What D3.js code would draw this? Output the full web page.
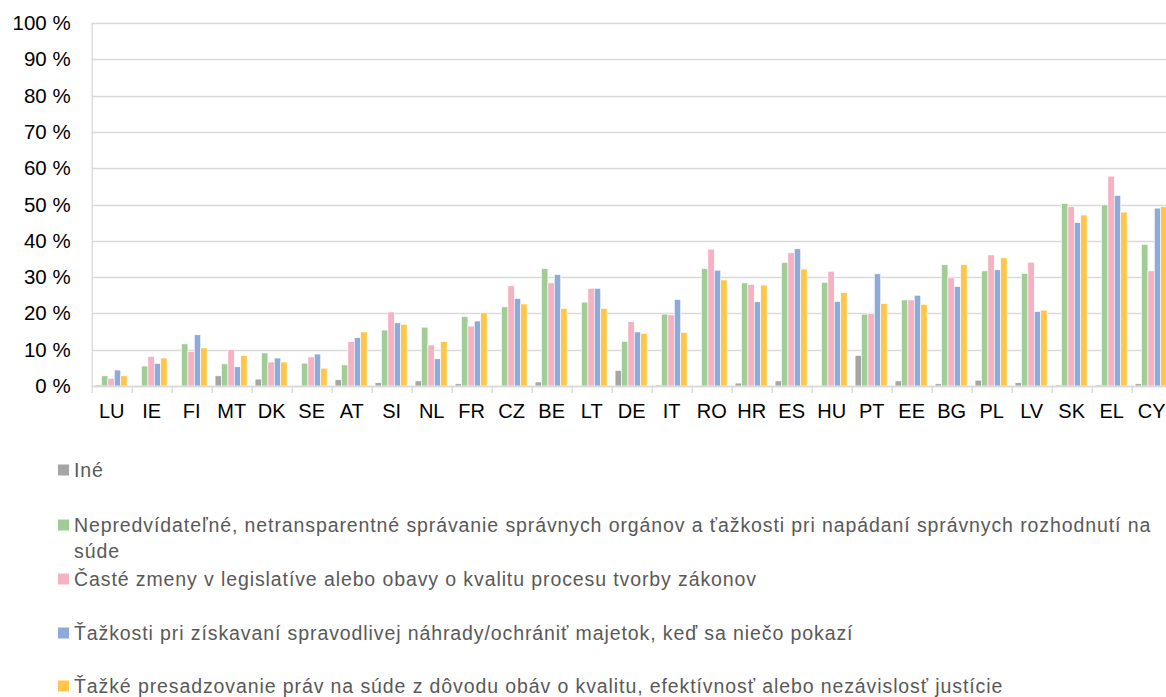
<!DOCTYPE html>
<html>
<head>
<meta charset="utf-8">
<script src="https://cdn.jsdelivr.net/npm/d3@7"></script>
<style>
  html, body { margin: 0; padding: 0; background: #fff; }
  svg { display: block; font-family: "Liberation Sans", Arial, sans-serif; }
</style>
</head>
<body>
<svg id="chart" width="1166" height="697"></svg>
<script>
// Countries along the x axis
const countries = ["LU","IE","FI","MT","DK","SE","AT","SI","NL","FR","CZ","BE","LT","DE","IT","RO","HR","ES","HU","PT","EE","BG","PL","LV","SK","EL","CY"];

// Share of respondents (%) per reason
const ine        = [0.3, 0.0, 0.0, 2.8, 1.9, 0.0, 1.7, 0.9, 1.4, 0.6, 0.0, 1.1, 0.2, 4.3, 0.3, 0.2, 0.8, 1.4, 0.2, 8.4, 1.4, 0.6, 1.6, 0.9, 0.3, 0.3, 0.6];
const nepredv    = [2.8, 5.5, 11.6, 6.1, 9.1, 6.3, 5.8, 15.4, 16.2, 19.1, 21.8, 32.3, 23.1, 12.3, 19.8, 32.3, 28.4, 34.0, 28.5, 19.8, 23.7, 33.4, 31.7, 31.0, 50.3, 49.9, 39.0];
const zmeny      = [2.1, 8.1, 9.5, 10.0, 6.6, 8.0, 12.2, 20.4, 11.3, 16.5, 27.6, 28.4, 26.9, 17.7, 19.6, 37.7, 28.0, 36.7, 31.6, 20.0, 23.7, 29.8, 36.1, 34.1, 49.4, 57.8, 31.7];
const nahrada    = [4.4, 6.2, 14.1, 5.3, 7.7, 8.8, 13.3, 17.4, 7.5, 17.9, 24.1, 30.7, 26.9, 14.9, 23.8, 31.9, 23.2, 37.8, 23.3, 30.9, 25.0, 27.4, 32.0, 20.5, 45.0, 52.5, 49.0];
const presadz    = [2.8, 7.7, 10.5, 8.4, 6.6, 4.9, 14.9, 17.0, 12.2, 20.2, 22.6, 21.4, 21.4, 14.5, 14.8, 29.2, 27.8, 32.2, 25.7, 22.7, 22.5, 33.4, 35.3, 20.9, 47.1, 47.9, 49.4];

const yTicks = [0,10,20,30,40,50,60,70,80,90,100];

const seriesNames = [
  "Iné",
  "Nepredvídateľné, netransparentné správanie správnych orgánov a ťažkosti pri napádaní správnych rozhodnutí na súde",
  "Časté zmeny v legislatíve alebo obavy o kvalitu procesu tvorby zákonov",
  "Ťažkosti pri získavaní spravodlivej náhrady/ochrániť majetok, keď sa niečo pokazí",
  "Ťažké presadzovanie práv na súde z dôvodu obáv o kvalitu, efektívnosť alebo nezávislosť justície"
];
const seriesValues = [ine, nepredv, zmeny, nahrada, presadz];
const seriesColors = ["#a5a5a5", "#a0cc95", "#f5b2c5", "#8eaad8", "#ffc64b"];

const svg = d3.select("#chart");
const plot = { left: 91.7, right: 1171.7, top: 23, bottom: 386 };

const x0 = d3.scaleBand().domain(countries).range([plot.left, plot.right]).paddingInner(0).paddingOuter(0);
const x1 = d3.scaleBand().domain(d3.range(seriesValues.length)).range([3.4, 35.4]).padding(0);
const y = d3.scaleLinear().domain([0, 100]).range([plot.bottom, plot.top]);

// Horizontal gridlines
svg.append("g")
  .selectAll("line")
  .data(yTicks)
  .join("line")
  .attr("x1", plot.left).attr("x2", plot.right)
  .attr("y1", d => Math.round(y(d)) + 0.5).attr("y2", d => Math.round(y(d)) + 0.5)
  .attr("stroke", "#d9d9d9").attr("stroke-width", 1.3);

// Left border of the plot area
svg.append("line")
  .attr("x1", plot.left + 0.5).attr("x2", plot.left + 0.5)
  .attr("y1", y(100)).attr("y2", y(0))
  .attr("stroke", "#d9d9d9").attr("stroke-width", 1.3);

// Y axis labels
const yAxis = d3.axisLeft(y).tickValues(yTicks).tickFormat(d => d + " %").tickSize(0).tickPadding(21);
const gy = svg.append("g").attr("transform", `translate(${plot.left},0)`).call(yAxis);
gy.select(".domain").remove();
gy.selectAll("text").attr("font-size", 20.5).attr("fill", "#000").attr("font-family", "Liberation Sans, Arial, sans-serif");

// Bars
const groups = svg.append("g")
  .selectAll("g")
  .data(countries)
  .join("g")
  .attr("transform", d => `translate(${x0(d)},0)`);

groups.selectAll("rect")
  .data((c, i) => seriesValues.map((vals, s) => ({ s, v: vals[i] })))
  .join("rect")
  .attr("x", d => x1(d.s))
  .attr("width", x1.bandwidth())
  .attr("y", d => y(d.v))
  .attr("height", d => y(0) - y(d.v))
  .attr("fill", d => seriesColors[d.s])
  .attr("stroke", "#fff")
  .attr("stroke-width", 0.6);

// X axis with tick marks between categories
const xAxis = d3.axisBottom(x0).tickSize(0).tickPadding(18);
const gx = svg.append("g").attr("transform", `translate(0,${plot.bottom})`).call(xAxis);
gx.select(".domain").attr("stroke", "#d9d9d9").attr("stroke-width", 1.3);
gx.selectAll("text").attr("font-size", 20).attr("fill", "#000").attr("font-family", "Liberation Sans, Arial, sans-serif");
gx.append("g").selectAll("line")
  .data(d3.range(countries.length + 1))
  .join("line")
  .attr("x1", i => plot.left + i * x0.step() + 0.5)
  .attr("x2", i => plot.left + i * x0.step() + 0.5)
  .attr("y1", 0).attr("y2", 7)
  .attr("stroke", "#d9d9d9").attr("stroke-width", 1.3);

// Legend (one entry per row, long label wraps)
const legendRows = [
  { s: 0, y: 470, lines: [seriesNames[0]] },
  { s: 1, y: 525, lines: ["Nepredvídateľné, netransparentné správanie správnych orgánov a ťažkosti pri napádaní správnych rozhodnutí na", "súde"] },
  { s: 2, y: 579, lines: [seriesNames[2]] },
  { s: 3, y: 633, lines: [seriesNames[3]] },
  { s: 4, y: 686, lines: [seriesNames[4]] }
];
const legend = svg.append("g");
legendRows.forEach(r => {
  legend.append("rect")
    .attr("x", 58).attr("y", r.y - 5.5).attr("width", 11).attr("height", 11)
    .attr("fill", seriesColors[r.s]);
  const t = legend.append("text")
    .attr("x", 74).attr("y", r.y)
    .attr("font-size", 19.5).attr("letter-spacing", 0.9).attr("fill", "#595959")
    .attr("dominant-baseline", "central");
  r.lines.forEach((ln, k) => {
    t.append("tspan").attr("x", 74).attr("dy", k === 0 ? 0 : 25.5).text(ln);
  });
});
</script>
</body>
</html>
